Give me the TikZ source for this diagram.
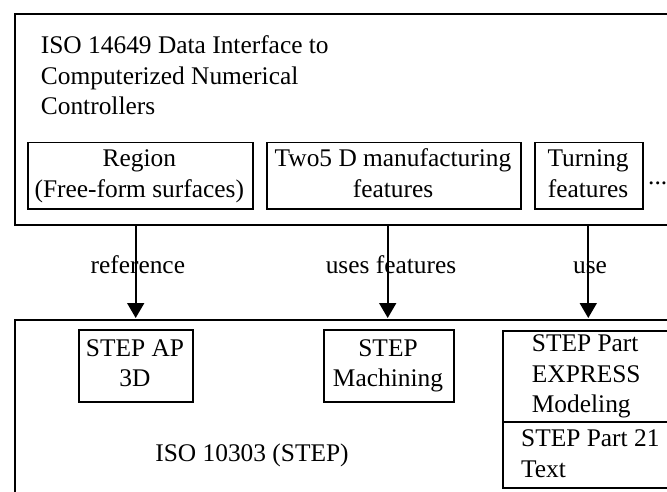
\documentclass[tikz,border=0pt]{standalone}
\usepackage{fontspec}
\setmainfont{Liberation Serif}
\usetikzlibrary{arrows.meta}
\begin{document}
\begin{tikzpicture}[x=1pt,y=-1pt,
  frame/.style={draw, line width=1.8pt, inner sep=0pt, anchor=north west},
  box/.style={draw, line width=1.8pt, inner sep=0pt, anchor=north west},
  txt/.style={font=\fontsize{25.4}{30.5}\selectfont, inner sep=0pt},
  link/.style={line width=1.8pt, -{Triangle[length=15pt,width=17pt]}}]
\useasboundingbox (0,0) rectangle (667,492);
\clip (0,0) rectangle (667,492);

% ISO 14649 block
\node[frame, minimum width=680pt, minimum height=211pt] (top) at (14,13) {};
\node[txt, anchor=base west, align=left] (title) at (40.7,115)
  {ISO 14649 Data Interface to\\Computerized Numerical\\Controllers};
\node[box, minimum width=225.3pt, minimum height=66.3pt] (region) at (26.7,141.7) {};
\node[txt, anchor=base, align=center] (regiontext) at (139.3,197)
  {Region\\(Free-form surfaces)};
\node[box, minimum width=254.3pt, minimum height=66.3pt] (twofive) at (265.7,141.7) {};
\node[txt, anchor=base, align=center] (twofivetext) at (393,197)
  {Two5 D manufacturing\\features};
\node[box, minimum width=108pt, minimum height=66.3pt] (turning) at (534,141.7) {};
\node[txt, anchor=base, align=center] (turningtext) at (588,197)
  {Turning\\features};
\node[txt, anchor=base west] (dots) at (648,185) {...};

% ISO 10303 block
\node[frame, minimum width=680pt, minimum height=200pt] (bottom) at (14,319) {};
\node[box, minimum width=114pt, minimum height=71.4pt] (ap3d) at (78,329.3) {};
\node[txt, anchor=base, align=center] (ap3dtext) at (135,386.7) {STEP AP\\3D};
\node[box, minimum width=130.6pt, minimum height=71.4pt] (mach) at (322.7,329.3) {};
\node[txt, anchor=base, align=center] (machtext) at (388,386.7) {STEP\\Machining};
\node[box, minimum width=200pt, minimum height=91pt] (express) at (502.3,330) {};
\node[txt, anchor=base west, align=left] (exptext) at (531.7,412.7)
  {STEP Part\\EXPRESS\\Modeling};
\node[box, minimum width=200pt, minimum height=66.3pt] (part21) at (502.3,421) {};
\node[txt, anchor=base west, align=left] (p21text) at (521,477.3)
  {STEP Part 21\\Text};
\node[txt, anchor=base] (iso) at (252,461) {ISO 10303 (STEP)};

% relations between the two standards
\coordinate (s1) at (135.7,224); \coordinate (e1) at (135.7,318);
\coordinate (s2) at (387.7,224); \coordinate (e2) at (387.7,318);
\coordinate (s3) at (588.3,224); \coordinate (e3) at (588.3,318);
\node[txt, anchor=base] (l1) at (137.8,273.3) {reference};
\node[txt, anchor=base] (l2) at (391,273.3) {uses features};
\node[txt, anchor=base] (l3) at (590,273.3) {use};
\draw[link] (s1) -- (e1);
\draw[link] (s2) -- (e2);
\draw[link] (s3) -- (e3);
\end{tikzpicture}
\end{document}
